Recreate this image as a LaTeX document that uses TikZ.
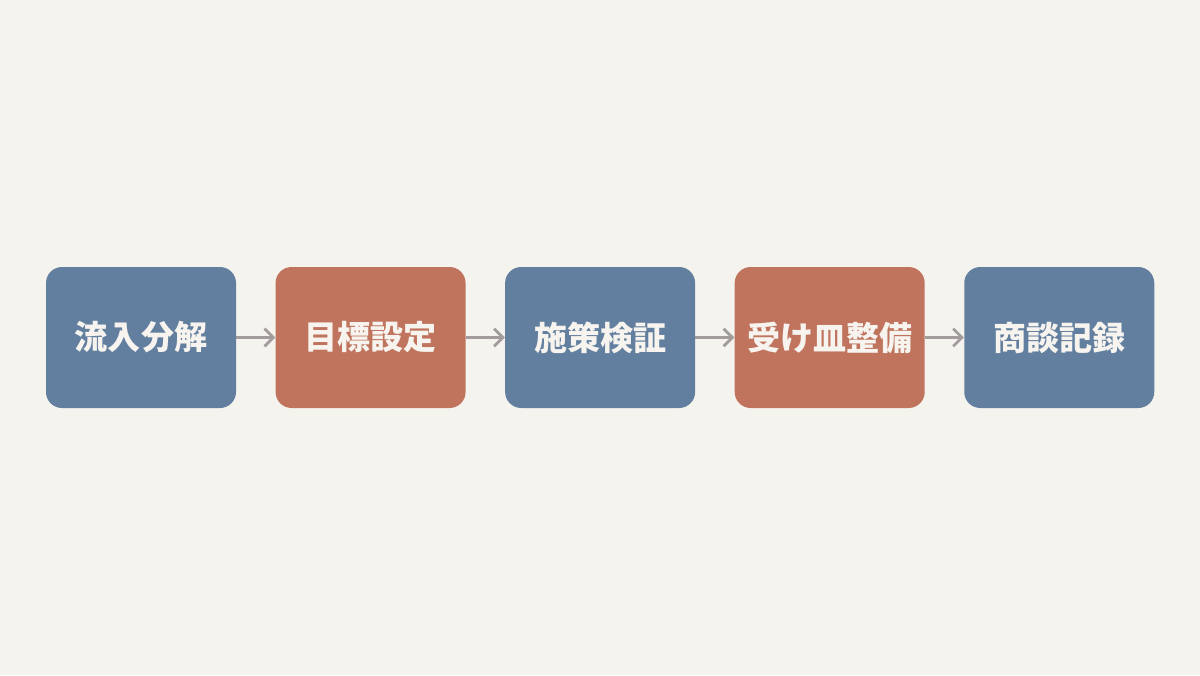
\documentclass[tikz,border=0pt]{standalone}
\usepackage{fontspec}
\newfontfamily\cjk{Noto Sans CJK JP}
\usetikzlibrary{positioning, arrows.meta}
\definecolor{bgpaper}{HTML}{F4F3EE}
\definecolor{stepblue}{HTML}{637F9F}
\definecolor{stepred}{HTML}{C0745D}
\definecolor{arrowgray}{HTML}{A39C9C}
\definecolor{textwhite}{HTML}{F7F4EF}

\begin{document}
\begin{tikzpicture}
            \fill[bgpaper] (0,0) rectangle (30,16.875); % the page
            \useasboundingbox (0,0) rectangle (30,16.875);
            \tikzset{stage/.style={rounded corners=0.4cm, minimum width=4.75cm, minimum height=3.525cm,
                         text=textwhite, font=\cjk\bfseries\fontsize{23.5}{28}\selectfont, inner sep=0pt},
                     link/.style={-{Straight Barb[length=2.2mm, width=4.4mm]}, arrowgray, line width=2pt}}

            \node[stage, fill=stepblue] (flow) at (3.525,8.4375) {流入分解}; % first box
            \node[stage, fill=stepred, right=0.975cm of flow] (goal) {目標設定};
            \node[stage, fill=stepblue, right=0.975cm of goal] (test) {施策検証};
            \node[stage, fill=stepred, right=0.975cm of test] (catch) {受け皿整備};
            \node[stage, fill=stepblue, right=0.975cm of catch] (deal) {商談記録};

            \draw[link] (flow) -- (goal); % arrows between the steps
            \draw[link] (goal) -- (test);
            \draw[link] (test) -- (catch);
            \draw[link] (catch) -- (deal);
      \end{tikzpicture}
\end{document}
